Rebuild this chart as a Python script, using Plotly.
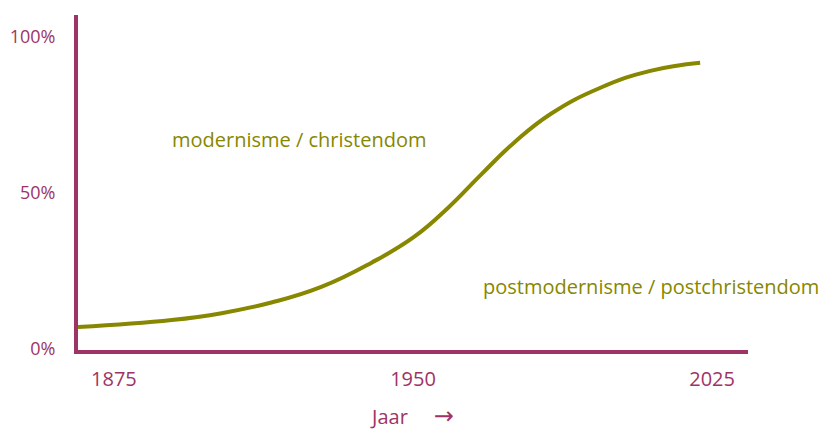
import plotly.graph_objects as go

years = [1866, 1889.5, 1902, 1914.5, 1927, 1939.5, 1950.25, 1958.75, 1967, 1975.25, 1984.5, 1997, 2009.5, 2022]
share = [7.05, 9.3, 11.5, 14.9, 19.9, 27.6, 35.9, 45.2, 55.8, 66.0, 75.3, 83.7, 89.1, 91.7]

x_ticks = [1875, 1950, 2025]
x_ticktext = ["1875", "1950", "2025"]
y_ticks = [0, 50, 100]
y_ticktext = ["0%", "50%", "100%"]

label_top = "modernisme / christendom"
label_bottom = "postmodernisme / postchristendom"
x_title = "Jaar     <span style='font-family:DejaVu Sans;font-size:24px'>\u2192</span>"

AXIS = "#9E3465"
OLIVE = "#878700"
FONT = "Open Sans"

fig = go.Figure()
fig.add_trace(go.Scatter(
    x=years, y=share, mode="lines",
    line=dict(color=OLIVE, width=4, shape="spline", smoothing=1.3),
    hoverinfo="skip", showlegend=False, cliponaxis=False,
))

fig.add_annotation(x=1889, y=67, xref="x", yref="y", text=label_top,
                   showarrow=False, xanchor="left", yanchor="middle",
                   font=dict(family=FONT, size=20, color=OLIVE))
fig.add_annotation(x=1967, y=20.2, xref="x", yref="y", text=label_bottom,
                   showarrow=False, xanchor="left", yanchor="middle",
                   font=dict(family=FONT, size=20, color=OLIVE))

fig.update_layout(
    width=818, height=422,
    margin=dict(l=70, r=78, t=7, b=80),
    paper_bgcolor="white", plot_bgcolor="white",
    font=dict(family=FONT, size=18, color=AXIS),
    xaxis=dict(range=[1866, 2034], tickvals=x_ticks, ticktext=x_ticktext,
               showgrid=False, zeroline=False, showline=True, automargin=False,
               linecolor=AXIS, linewidth=4, ticks="", ticklabelstandoff=8,
               tickfont=dict(family=FONT, size=20, color=AXIS),
               title=dict(text=x_title, standoff=28,
                          font=dict(family=FONT, size=20, color=AXIS))),
    yaxis=dict(range=[-0.3, 107], tickvals=y_ticks, ticktext=y_ticktext,
               showgrid=False, zeroline=False, showline=True, automargin=False,
               linecolor=AXIS, linewidth=4, ticks="", ticklabelstandoff=15,
               tickfont=dict(family=FONT, size=18, color=AXIS)),
)

fig.write_html("out.html")
